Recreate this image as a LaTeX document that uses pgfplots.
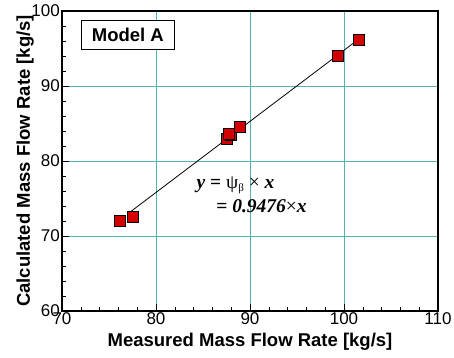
\documentclass[border=0pt]{standalone}
\usepackage{fontspec}
\setmainfont{Liberation Sans}
\newfontfamily\serif{Liberation Serif}
\usepackage{pgfplots}
\pgfplotsset{compat=1.18}
\definecolor{gridc}{RGB}{80,180,180}
\definecolor{mred}{RGB}{210,0,0}
\begin{document}
\begin{tikzpicture}
\useasboundingbox (-62pt,-46pt) rectangle (392pt,311pt);
\begin{axis}[
  anchor=south west, at={(0,0)},
  scale only axis, width=376pt, height=300pt,
  xmin=70, xmax=110, ymin=60, ymax=100,
  xtick={70,80,90,100,110}, ytick={60,70,80,90,100},
  minor x tick num=4, minor y tick num=4,
  tick align=inside, xtick pos=bottom, ytick pos=left,
  major tick length=7pt, minor tick length=4pt,
  every tick/.style={black, line width=0.6pt},
  xmajorgrids=true, ymajorgrids=true,
  every major grid/.style={draw=gridc, line width=1pt},
  axis line style={line width=1.2pt},
  /pgf/number format/assume math mode=true,
  ticklabel style={font=\fontsize{17}{20}\selectfont},
  xticklabel style={inner sep=1pt},
  yticklabel style={inner sep=2pt},
  xlabel={\bfseries Measured Mass Flow Rate [kg/s]},
  ylabel={\bfseries Calculated Mass Flow Rate [kg/s]},
  label style={font=\fontsize{18.5}{20}\selectfont},
  xlabel style={yshift=-4pt},
  ylabel style={yshift=-8pt},
  clip=false,
]
\addplot[black, line width=0.8pt] coordinates {(77.3,73.25) (101.2,95.9)};
\addplot[only marks, mark=square*, mark size=5.5pt, mark options={fill=mred, draw=black, line width=0.6pt}] coordinates {
(76.2,72.0) (77.5,72.6) (87.5,83.0) (88.0,83.5) (87.7,83.6) (88.9,84.5) (99.3,94.0) (101.6,96.1)
};
\node[draw=black, fill=white, line width=0.6pt, anchor=north west, minimum width=93pt, minimum height=28.6pt, font=\fontsize{18.5}{20}\selectfont\bfseries] at (axis cs:72.03,98.75) {Model A};
\node[anchor=base west, font=\serif\fontsize{19.5}{22}\selectfont, inner sep=0pt] at (axis cs:84.3,76.4) {\textbf{\textit{y}} \textbf{=} ψ\raisebox{-0.35ex}{\fontsize{11}{12}\selectfont β} × \textbf{\textit{x}}};
\node[anchor=base west, font=\serif\fontsize{19.5}{22}\selectfont, inner sep=0pt] at (axis cs:86.4,73.1) {\textbf{=} \textbf{\textit{0.9476}}×\textbf{\textit{x}}};
\end{axis}
\end{tikzpicture}
\end{document}
